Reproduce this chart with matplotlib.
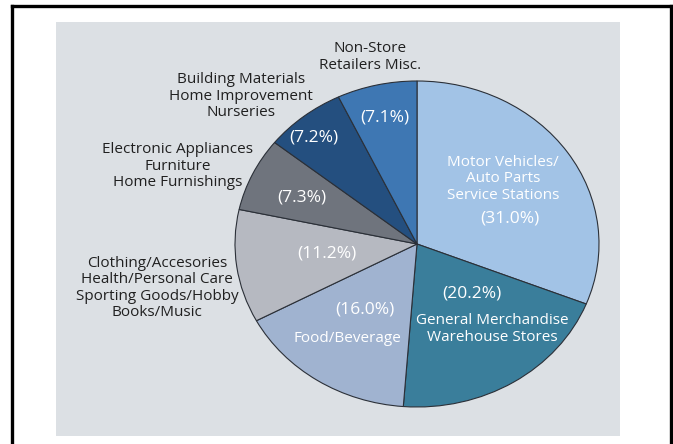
import matplotlib
matplotlib.use("Agg")
import matplotlib.pyplot as plt
from matplotlib.patches import Rectangle
from matplotlib.lines import Line2D

# ---- data ----
categories = [
    "Motor Vehicles/\nAuto Parts\nService Stations",
    "General Merchandise\nWarehouse Stores",
    "Food/Beverage",
    "Clothing/Accesories\nHealth/Personal Care\nSporting Goods/Hobby\nBooks/Music",
    "Electronic Appliances\nFurniture\nHome Furnishings",
    "Building Materials\nHome Improvement\nNurseries",
    "Non-Store\nRetailers Misc.",
]
shares = [31.0, 20.2, 16.0, 11.2, 7.3, 7.2, 7.1]
pct_labels = ["(%.1f%%)" % v for v in shares]

colors = ["#a2c3e6", "#3a7e9b", "#a0b3d0", "#b6b9c1", "#6f747d", "#244f7f", "#3e77b3"]

W, H = 673, 444
fig = plt.figure(figsize=(W / 100, H / 100), dpi=100)
fig.patch.set_facecolor("white")

def fx(x):
    return x / W

def fy(y):
    return 1 - y / H

# outer frame (top, left, right; bottom is cropped)
for (x0, y0, x1, y1) in [(12, 6, 671, 6), (12, 6, 12, 444), (671, 6, 671, 444)]:
    fig.add_artist(Line2D([fx(x0), fx(x1)], [fy(y0), fy(y1)], color="black",
                          lw=2.4, transform=fig.transFigure, solid_capstyle="projecting"))

# background panel
fig.add_artist(Rectangle((fx(56), fy(436)), fx(620) - fx(56), fy(22) - fy(436),
                         transform=fig.transFigure, facecolor="#dce0e4",
                         edgecolor="none", zorder=0))

# pie axes (ellipse, as in the reference)
cx, cy, rx, ry = 417, 244, 182, 163
ax = fig.add_axes([fx(cx - rx), fy(cy + ry), 2 * rx / W, 2 * ry / H])
ax.pie(shares, colors=colors, startangle=90, counterclock=False, radius=1,
       wedgeprops=dict(edgecolor="#2b3038", linewidth=0.8))
ax.set_aspect("auto")
ax.set_xlim(-1.0, 1.0)
ax.set_ylim(-1.0, 1.0)
ax.patch.set_alpha(0)
ax.axis("off")

font = "Open Sans"
dark = "#202020"
fs = 11
ls = 1.12

# outside (dark) category labels
outside = {6: (370, 57), 5: (241, 96), 4: (178, 166), 3: (157, 288)}
for i, (x, y) in outside.items():
    fig.text(fx(x), fy(y), categories[i], ha="center", va="center",
             color=dark, fontsize=fs, family=font, linespacing=ls)

# inside (white) category labels
inside = {0: (503, 179), 1: (492, 329), 2: (347, 338)}
for i, (x, y) in inside.items():
    fig.text(fx(x), fy(y), categories[i], ha="center", va="center",
             color="white", fontsize=fs, family=font, linespacing=ls)

# percentage labels
pct_pos = [(510, 218), (472, 293), (365, 310), (327, 253), (302, 197), (314, 138), (385, 117)]
for lab, (x, y) in zip(pct_labels, pct_pos):
    fig.text(fx(x), fy(y), lab, ha="center", va="center",
             color="white", fontsize=12.5, family=font)

fig.savefig("out.png", dpi=100)
